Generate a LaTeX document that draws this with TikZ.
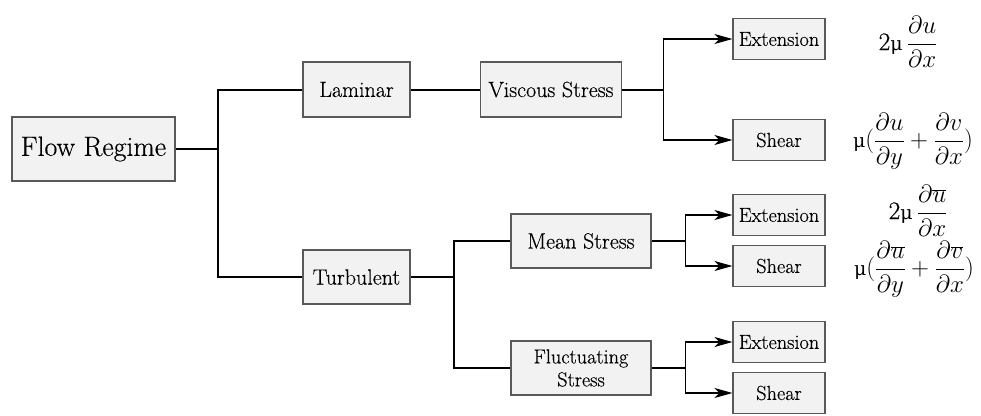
\documentclass[tikz,border=0pt]{standalone}
\usepackage{fontspec}
\setmainfont{Latin Modern Roman}[FakeBold=0.35]
\newfontfamily\gk{DejaVu Serif}
\usetikzlibrary{arrows.meta}
\newcommand{\pfr}[2]{\frac{\rule[-0.22em]{0pt}{0.95em}#1}{\rule{0pt}{0.85em}#2}}
\newcommand{\mymu}{{\gk\fontsize{19}{22}\selectfont μ}}
\tikzset{
  box/.style={draw=black!65, line width=1.1pt, fill=black!5, inner sep=0pt, align=center, text=black},
  conn/.style={line width=2pt, black},
  arr/.style={line width=1.3pt, black, -{Stealth[length=18pt,width=10pt,inset=5pt]}},
  formula/.style={inner sep=0pt, font=\fontsize{25.5}{30}\selectfont},
  big/.style={font=\fontsize{27.8}{31}\selectfont},
  mid/.style={font=\fontsize{22}{25}\selectfont},
  small/.style={font=\fontsize{20.3}{23}\selectfont}
}
\begin{document}
\begin{tikzpicture}[x=1pt,y=-1pt]
\useasboundingbox (0,0) rectangle (981,415);
% nodes
\node[box, big, minimum width=163pt, minimum height=64pt] (fr) at (93.5,149) {Flow Regime};
\node[box, mid, minimum width=107pt, minimum height=55pt] (lam) at (356.5,89.5) {Laminar};
\node[box, mid, minimum width=107pt, minimum height=54pt] (turb) at (356.5,277) {Turbulent};
\node[box, mid, minimum width=141pt, minimum height=55pt] (visc) at (551,89.5) {Viscous Stress};
\node[box, mid, minimum width=140pt, minimum height=54pt] (mean) at (581,241) {Mean Stress};
\node[box, small, minimum width=140pt, minimum height=54pt] (fluct) at (581,368) {Fluctuating\\Stress};
\node[box, small, minimum width=92pt, minimum height=41pt] (ext1) at (779,39) {Extension};
\node[box, small, minimum width=92pt, minimum height=41pt] (sh1) at (779,140) {Shear};
\node[box, small, minimum width=92pt, minimum height=41pt] (ext2) at (779,215) {Extension};
\node[box, small, minimum width=92pt, minimum height=41pt] (sh2) at (779,266) {Shear};
\node[box, small, minimum width=92pt, minimum height=41pt] (ext3) at (779,342) {Extension};
\node[box, small, minimum width=92pt, minimum height=41pt] (sh3) at (779,393) {Shear};
% formulas
\node[formula] (f1) at (908,41) {2\mymu\,$\displaystyle\pfr{\partial u}{\partial x}$};
\node[formula] (f2) at (913,141) {\mymu$\displaystyle(\pfr{\partial u}{\partial y}+\pfr{\partial v}{\partial x})$};
\node[formula] (f3) at (918,210) {2\mymu\,$\displaystyle\pfr{\partial \overline{u}}{\partial x}$};
\node[formula] (f4) at (914,269) {\mymu$\displaystyle(\pfr{\partial \overline{u}}{\partial y}+\pfr{\partial \overline{v}}{\partial x})$};
% junctions
\coordinate (j1) at (218,149);
\coordinate (j2) at (663.5,89.5);
\coordinate (j3) at (454,277);
\coordinate (j4) at (685.5,241);
\coordinate (j5) at (685.5,368);
% connectors
\draw[conn] (fr.east) -- (j1);
\draw[conn] (lam.west) -| (j1) |- (turb.west);
\draw[conn] (lam.east) -- (visc.west);
\draw[conn] (visc.east) -- (j2);
\draw[arr] (j2) |- (ext1.west);
\draw[arr] (j2) |- (sh1.west);
\draw[conn] (turb.east) -- (j3);
\draw[conn] (mean.west) -| (j3) |- (fluct.west);
\draw[conn] (mean.east) -- (j4);
\draw[arr] (j4) |- (ext2.west);
\draw[arr] (j4) |- (sh2.west);
\draw[conn] (fluct.east) -- (j5);
\draw[arr] (j5) |- (ext3.west);
\draw[arr] (j5) |- (sh3.west);
\end{tikzpicture}
\end{document}
